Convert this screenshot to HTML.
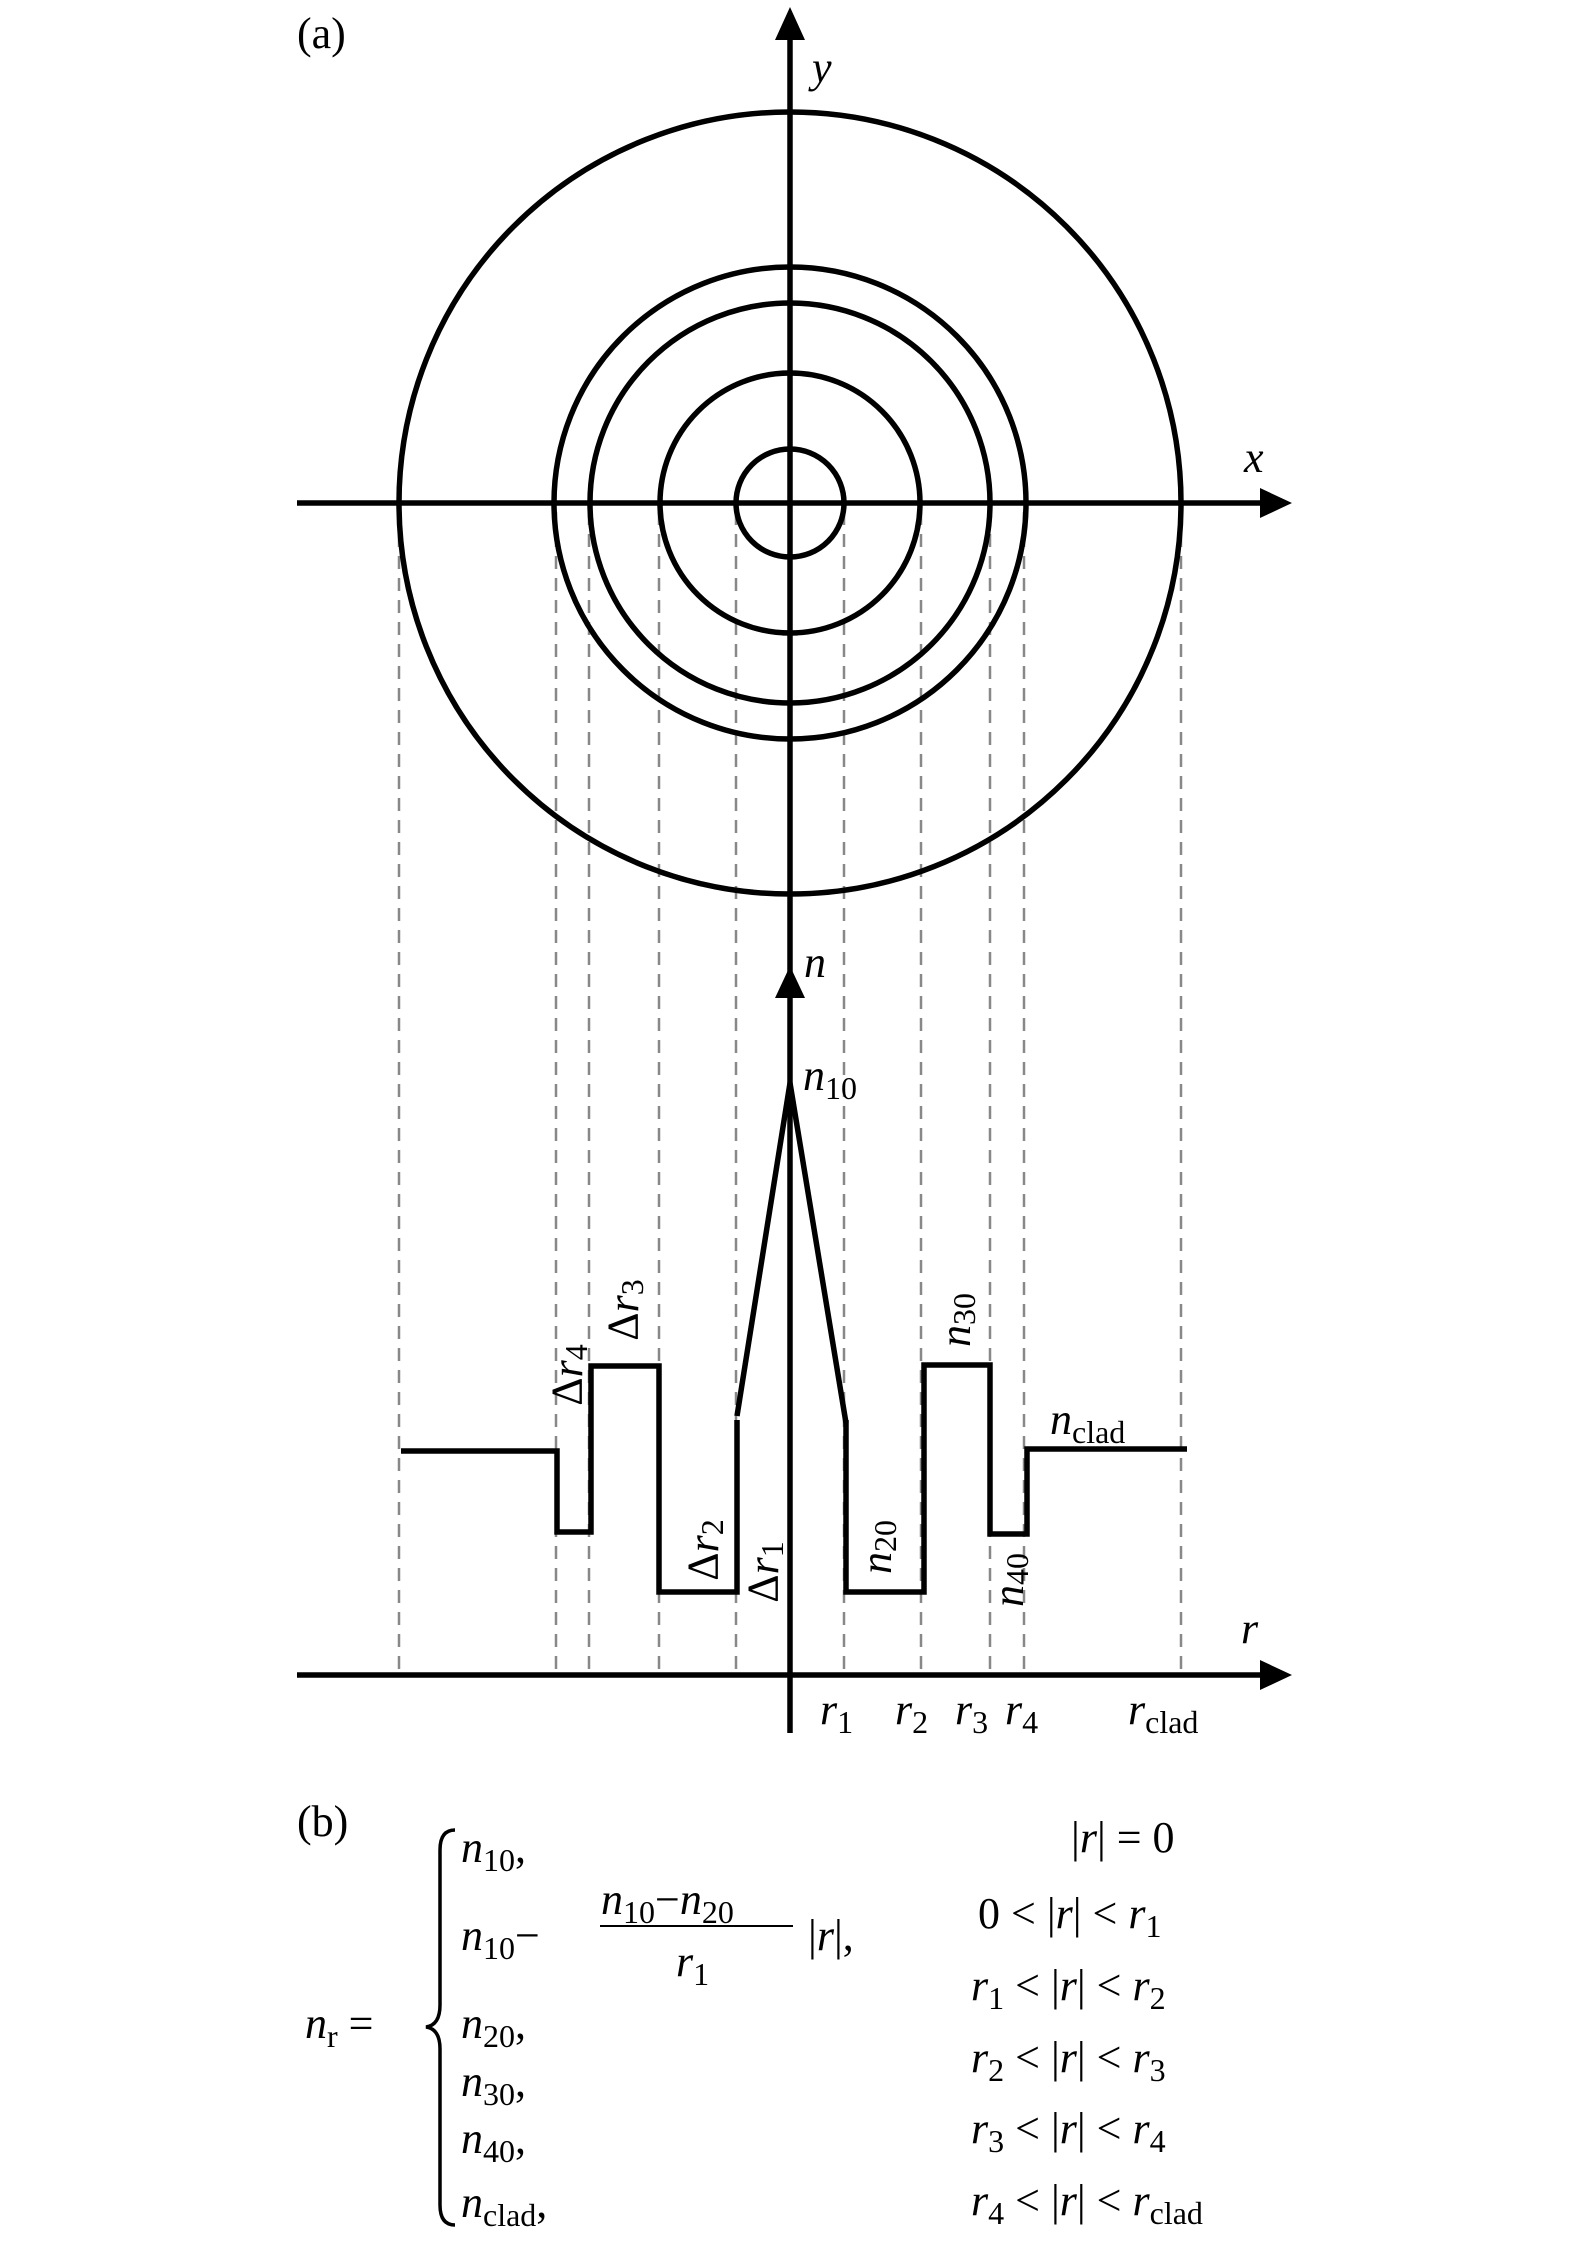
<!DOCTYPE html>
<html><head><meta charset="utf-8"><style>
html,body{margin:0;padding:0;background:#fff}
svg text{font-family:"Liberation Serif",serif;fill:#000}
.i{font-style:italic}
</style></head><body>
<svg width="1575" height="2244" viewBox="0 0 1575 2244" xmlns="http://www.w3.org/2000/svg">
<g stroke="#888" stroke-width="2.5" stroke-dasharray="13,9" fill="none">
<line x1="399" y1="512" x2="399" y2="1675"/>
<line x1="556" y1="512" x2="556" y2="1675"/>
<line x1="589" y1="512" x2="589" y2="1675"/>
<line x1="659" y1="512" x2="659" y2="1675"/>
<line x1="736" y1="512" x2="736" y2="1675"/>
<line x1="844" y1="512" x2="844" y2="1675"/>
<line x1="921" y1="512" x2="921" y2="1675"/>
<line x1="990" y1="512" x2="990" y2="1675"/>
<line x1="1024" y1="512" x2="1024" y2="1675"/>
<line x1="1181" y1="512" x2="1181" y2="1675"/>
</g>
<g stroke="#000" stroke-width="5.5" fill="none">
<circle cx="790" cy="503" r="54"/>
<circle cx="790" cy="503" r="130"/>
<circle cx="790" cy="503" r="200"/>
<circle cx="790" cy="503" r="236"/>
<circle cx="790" cy="503" r="391"/>
<line x1="297" y1="503" x2="1262" y2="503"/>
<line x1="297" y1="1675" x2="1262" y2="1675"/>
<line x1="790" y1="30" x2="790" y2="1733"/>
<polyline points="401,1451 557,1451 557,1532 591,1532 591,1366 659,1366 659,1592 737,1592 737,1420"/>
<polyline points="737,1416 790,1083 846,1423"/>
<polyline points="846,1420 846,1592 924,1592 924,1365 990,1365 990,1534 1027,1534 1027,1449 1187,1449"/>
</g>
<g fill="#000">
<polygon points="790,7 775,40 805,40"/>
<polygon points="1292,503 1260,488 1260,518"/>
<polygon points="1292,1675 1260,1660 1260,1690"/>
<polygon points="790,966 775,998 805,998"/>
</g>
<g font-size="44">
<text x="297" y="48">(a)</text>
<text class="i" x="812" y="82">y</text>
<text class="i" x="1244" y="472">x</text>
<text class="i" x="804" y="977">n</text>
<text x="803" y="1090"><tspan class="i">n</tspan><tspan font-size="32" dy="9">10</tspan></text>
<text class="i" x="1241" y="1643">r</text>
<text x="820" y="1724"><tspan class="i">r</tspan><tspan font-size="32" dy="9">1</tspan></text>
<text x="895" y="1724"><tspan class="i">r</tspan><tspan font-size="32" dy="9">2</tspan></text>
<text x="955" y="1724"><tspan class="i">r</tspan><tspan font-size="32" dy="9">3</tspan></text>
<text x="1005" y="1724"><tspan class="i">r</tspan><tspan font-size="32" dy="9">4</tspan></text>
<text x="1128" y="1724"><tspan class="i">r</tspan><tspan font-size="32" dy="9">clad</tspan></text>
<text x="1050" y="1434"><tspan class="i">n</tspan><tspan font-size="32" dy="9">clad</tspan></text>
<g text-anchor="middle" dominant-baseline="central">
<text transform="translate(567,1375) rotate(-90)">Δ<tspan class="i">r</tspan><tspan font-size="32" dy="9">4</tspan></text>
<text transform="translate(623,1310) rotate(-90)">Δ<tspan class="i">r</tspan><tspan font-size="32" dy="9">3</tspan></text>
<text transform="translate(703,1550) rotate(-90)">Δ<tspan class="i">r</tspan><tspan font-size="32" dy="9">2</tspan></text>
<text transform="translate(763,1572) rotate(-90)">Δ<tspan class="i">r</tspan><tspan font-size="32" dy="9">1</tspan></text>
<text transform="translate(876,1547) rotate(-90)"><tspan class="i">n</tspan><tspan font-size="32" dy="9">20</tspan></text>
<text transform="translate(955,1320) rotate(-90)"><tspan class="i">n</tspan><tspan font-size="32" dy="9">30</tspan></text>
<text transform="translate(1008,1580) rotate(-90)"><tspan class="i">n</tspan><tspan font-size="32" dy="9">40</tspan></text>
</g>
<text x="297" y="1836">(b)</text>
<text x="305" y="2038"><tspan class="i">n</tspan><tspan font-size="32" dy="9">r</tspan><tspan dy="-9"> =</tspan></text>
<text x="461" y="1862"><tspan class="i">n</tspan><tspan font-size="32" dy="9">10</tspan><tspan dy="-9">,</tspan></text>
<text x="461" y="1950"><tspan class="i">n</tspan><tspan font-size="32" dy="9">10</tspan><tspan dy="-9">−</tspan></text>
<text x="601" y="1914"><tspan class="i">n</tspan><tspan font-size="32" dy="9">10</tspan><tspan dy="-9">−</tspan><tspan class="i">n</tspan><tspan font-size="32" dy="9">20</tspan></text>
<text x="676" y="1976"><tspan class="i">r</tspan><tspan font-size="32" dy="9">1</tspan></text>
<text x="808" y="1950">|<tspan class="i">r</tspan>|,</text>
<text x="461" y="2038"><tspan class="i">n</tspan><tspan font-size="32" dy="9">20</tspan><tspan dy="-9">,</tspan></text>
<text x="461" y="2096"><tspan class="i">n</tspan><tspan font-size="32" dy="9">30</tspan><tspan dy="-9">,</tspan></text>
<text x="461" y="2153"><tspan class="i">n</tspan><tspan font-size="32" dy="9">40</tspan><tspan dy="-9">,</tspan></text>
<text x="461" y="2217"><tspan class="i">n</tspan><tspan font-size="32" dy="9">clad</tspan><tspan dy="-9">,</tspan></text>
<text x="1071" y="1852">|<tspan class="i">r</tspan>| = 0</text>
<text x="978" y="1928">0 &lt; |<tspan class="i">r</tspan>| &lt; <tspan class="i">r</tspan><tspan font-size="32" dy="9">1</tspan></text>
<text x="971" y="2000"><tspan class="i">r</tspan><tspan font-size="32" dy="9">1</tspan><tspan dy="-9"> &lt; |</tspan><tspan class="i">r</tspan>| &lt; <tspan class="i">r</tspan><tspan font-size="32" dy="9">2</tspan></text>
<text x="971" y="2072"><tspan class="i">r</tspan><tspan font-size="32" dy="9">2</tspan><tspan dy="-9"> &lt; |</tspan><tspan class="i">r</tspan>| &lt; <tspan class="i">r</tspan><tspan font-size="32" dy="9">3</tspan></text>
<text x="971" y="2143"><tspan class="i">r</tspan><tspan font-size="32" dy="9">3</tspan><tspan dy="-9"> &lt; |</tspan><tspan class="i">r</tspan>| &lt; <tspan class="i">r</tspan><tspan font-size="32" dy="9">4</tspan></text>
<text x="971" y="2215"><tspan class="i">r</tspan><tspan font-size="32" dy="9">4</tspan><tspan dy="-9"> &lt; |</tspan><tspan class="i">r</tspan>| &lt; <tspan class="i">r</tspan><tspan font-size="32" dy="9">clad</tspan></text>
</g>
<line x1="600" y1="1926" x2="793" y2="1926" stroke="#000" stroke-width="2"/>
<path d="M455,1830 Q440,1830 440,1850 L440,2005 Q440,2025 426,2027 Q440,2029 440,2049 L440,2205 Q440,2225 455,2225" fill="none" stroke="#000" stroke-width="3.5"/>
</svg>
</body></html>
